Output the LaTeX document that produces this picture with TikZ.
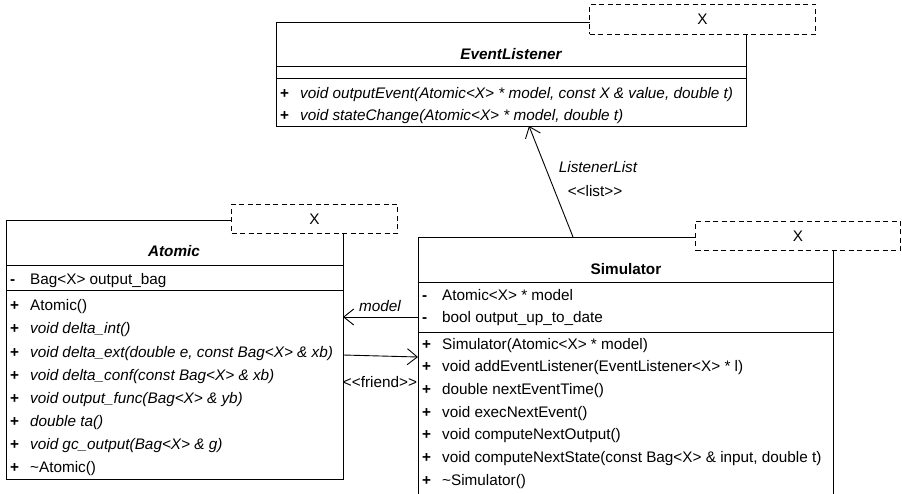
\documentclass[tikz,border=0pt]{standalone}
\usepackage{fontspec}
\setmainfont{Liberation Sans}
\usepackage{tikz}
\usetikzlibrary{calc}
\usetikzlibrary{arrows.meta}
\tikzset{
  classbox/.style={draw, line width=1pt, fill=white, inner sep=0, anchor=north west},
  tparam/.style={draw, line width=1pt, dash pattern=on 5pt off 3.5pt, fill=white, inner sep=0, anchor=north west},
  member/.style={anchor=west, inner sep=0, text height=11pt, text depth=3pt},
  cname/.style={inner sep=0, text height=11pt, text depth=3pt},
  assoc/.style={line width=0.9pt, -{Straight Barb[length=10pt,width=16pt]}},
}
\AtBeginDocument{\fontsize{15.3}{18}\selectfont}

\begin{document}
\begin{tikzpicture}[x=1pt,y=-1pt]
\useasboundingbox (0,0) rectangle (902,494);
\clip (0,0) rectangle (902,494);

% EventListener
\node[classbox, minimum width=470pt, minimum height=104pt] (el) at (276,22) {};
\node[tparam, minimum width=226pt, minimum height=30pt] (eltp) at (589,4) {X};
\draw[line width=1pt] (276,67) -- (746,67);
\draw[line width=1pt] (276,79) -- (746,79);
\node[cname] (elname) at (511,56) {\bfseries\itshape EventListener};
\foreach \m [count=\i] in {{void outputEvent(Atomic<X> * model, const X \& value, double t)},
                           {void stateChange(Atomic<X> * model, double t)}} {
  \node[member] (elp\i) at (280,{73+22*\i}) {\textbf{+}};
  \node[member] (elm\i) at (300,{73+22*\i}) {\itshape \m};
}

% Atomic
\node[classbox, minimum width=337pt, minimum height=259pt] (atomic) at (6,220) {};
\node[tparam, minimum width=166pt, minimum height=29pt] (attp) at (231,204) {X};
\draw[line width=1pt] (6,266) -- (343,266);
\draw[line width=1pt] (6,291) -- (343,291);
\node[cname] (atname) at (174,253) {\bfseries\itshape Atomic};
\node[member] (atq) at (10,281) {\textbf{-}};
\node[member] (ata) at (30,281) {Bag<X> output\_bag};
\foreach \m [count=\i] in {Atomic(), \itshape void delta\_int(),
                           {\itshape void delta\_ext(double e, const Bag<X> \& xb)},
                           \itshape void delta\_conf(const Bag<X> \& xb),
                           \itshape void output\_func(Bag<X> \& yb),
                           \itshape double ta(),
                           \itshape void gc\_output(Bag<X> \& g),
                           \textasciitilde Atomic()} {
  \node[member] (atp\i) at (10,{284+23*\i}) {\textbf{+}};
  \node[member] (atm\i) at (30,{284+23*\i}) {\m};
}

% Simulator
\node[classbox, minimum width=415pt, minimum height=280pt] (sim) at (418,237) {};
\node[tparam, minimum width=205pt, minimum height=29pt] (simtp) at (695,221) {X};
\draw[line width=1pt] (418,283) -- (833,283);
\draw[line width=1pt] (418,332) -- (833,332);
\node[cname] (simname) at (626,271) {\bfseries Simulator};
\foreach \a [count=\i] in {Atomic<X> * model, bool output\_up\_to\_date} {
  \node[member] (simq\i) at (422,{275+22*\i}) {\textbf{-}};
  \node[member] (sima\i) at (442,{275+22*\i}) {\a};
}
\foreach \m [count=\i] in {Simulator(Atomic<X> * model),
                           void addEventListener(EventListener<X> * l),
                           double nextEventTime(),
                           void execNextEvent(),
                           void computeNextOutput(),
                           {void computeNextState(const Bag<X> \& input, double t)},
                           \textasciitilde Simulator()} {
  \node[member] (simp\i) at (422,{322.3+22.7*\i}) {\textbf{+}};
  \node[member] (simm\i) at (442,{322.3+22.7*\i}) {\m};
}

% associations
\coordinate (lsrc) at (573,237);
\coordinate (ldst) at (529,126);
\draw[assoc] (lsrc) -- (ldst);
\node (llist) at (598,167) {\itshape ListenerList};
\node (lster) at (595,191) {<{}<list>{}>};

\coordinate (msrc) at (418,317);
\coordinate (mdst) at (343,317);
\draw[assoc] (msrc) -- (mdst);
\node (mlbl) at (380,306) {\itshape model};

\coordinate (fsrc) at (343,355);
\coordinate (fdst) at (418,357);
\draw[assoc] (fsrc) -- (fdst);
\node (flbl) at (380,382) {<{}<friend>{}>};
\end{tikzpicture}
\end{document}
